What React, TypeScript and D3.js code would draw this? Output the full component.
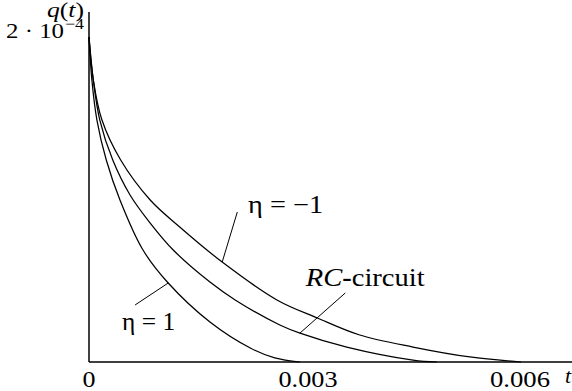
import React from 'react';
import * as d3 from 'd3';

// eta = 1 curve
const etaPlusT = [0, 0.00004, 0.00011, 0.00024, 0.00043, 0.00075, 0.0011, 0.00168, 0.00224, 0.00258, 0.00293];
const etaPlusQ = [2.0e-4, 1.735e-4, 1.489e-4, 1.243e-4, 0.997e-4, 0.689e-4, 0.486e-4, 0.246e-4, 0.086e-4, 0.025e-4, 0];
// RC-circuit curve
const rcT = [0, 0.00006, 0.00015, 0.00033, 0.00057, 0.00085, 0.00117, 0.00168, 0.00203, 0.00265, 0.00293, 0.00358, 0.0045, 0.00483];
const rcQ = [2.0e-4, 1.735e-4, 1.489e-4, 1.243e-4, 1.028e-4, 0.855e-4, 0.689e-4, 0.492e-4, 0.382e-4, 0.228e-4, 0.178e-4, 0.092e-4, 0.012e-4, 0];
// eta = -1 curve
const etaMinusT = [0, 0.00006, 0.00018, 0.00044, 0.00085, 0.00126, 0.00185, 0.00261, 0.00317, 0.00376, 0.0045, 0.00529, 0.006];
const etaMinusQ = [2.0e-4, 1.735e-4, 1.489e-4, 1.243e-4, 0.997e-4, 0.831e-4, 0.615e-4, 0.382e-4, 0.271e-4, 0.166e-4, 0.092e-4, 0.031e-4, 0];

const xTicks = [0, 0.003, 0.006];
const xTickLabels = ['0', '0.003', '0.006'];

// annotations: leader line [t1,q1,t2,q2], label anchor [t,q]
const annLeaders = [
  [0.00185, 0.615e-4, 0.00206, 0.923e-4],
  [0.00293, 0.178e-4, 0.00356, 0.425e-4],
  [0.00064, 0.351e-4, 0.0011, 0.486e-4],
];
const annLabelPos = [
  [0.00221, 0.917e-4],
  [0.00301, 0.468e-4],
  [0.00046, 0.197e-4],
];

const W = 572;
const H = 391;

export default function App() {
  const x = d3.scaleLinear().domain([0, 0.006]).range([89, 521]);
  const y = d3.scaleLinear().domain([0, 2e-4]).range([362, 37]);
  const line = d3
    .line<[number, number]>()
    .x((d) => x(d[0]))
    .y((d) => y(d[1]))
    .curve(d3.curveCatmullRom.alpha(0.5));
  const series = [
    d3.zip(etaPlusT, etaPlusQ) as [number, number][],
    d3.zip(rcT, rcQ) as [number, number][],
    d3.zip(etaMinusT, etaMinusQ) as [number, number][],
  ];
  const font = "'Liberation Serif', 'Times New Roman', Times, serif";
  const lp = annLabelPos.map((p) => [x(p[0]), y(p[1])]);
  const tickW = [13, 59, 60];
  const tickOff = [0, 3, -1];
  return (
    <svg width={W} height={H} style={{ position: 'absolute', left: 0, top: 0, background: '#fff', fontFamily: font }}>
      <rect x={0} y={0} width={W} height={H} fill="#fff" />
      {/* axes */}
      <line x1={x(0)} y1={12} x2={x(0)} y2={y(0)} stroke="#000" strokeWidth={1.5} />
      <line x1={x(0)} y1={y(0)} x2={W} y2={y(0)} stroke="#000" strokeWidth={1.5} />
      {series.map((s, i) => (
        <path key={i} d={line(s) || ''} fill="none" stroke="#000" strokeWidth={1.25} />
      ))}
      {annLeaders.map((l, i) => (
        <line key={i} x1={x(l[0])} y1={y(l[1])} x2={x(l[2])} y2={y(l[3])} stroke="#000" strokeWidth={1} />
      ))}
      {xTicks.map((t, i) => (
        <text
          key={i}
          x={x(t) + tickOff[i] - tickW[i] / 2}
          y={387}
          fontSize={24}
          textLength={tickW[i]}
          lengthAdjust="spacingAndGlyphs"
        >
          {xTickLabels[i]}
        </text>
      ))}
      <text x={565} y={383} fontSize={22} fontStyle="italic">t</text>
      {/* y label */}
      <text x={47} y={17} fontSize={21} textLength={37} lengthAdjust="spacingAndGlyphs">
        <tspan fontStyle="italic">q</tspan>(<tspan fontStyle="italic">t</tspan>)
      </text>
      <text x={6} y={38} fontSize={22} textLength={58} lengthAdjust="spacingAndGlyphs">2 · 10</text>
      <text x={65} y={29} fontSize={15} textLength={19} lengthAdjust="spacingAndGlyphs">−4</text>
      {/* annotation labels */}
      <text x={lp[0][0]} y={lp[0][1]} fontSize={25} textLength={75} lengthAdjust="spacingAndGlyphs">η = −1</text>
      <text x={lp[1][0]} y={lp[1][1]} fontSize={25} textLength={119} lengthAdjust="spacingAndGlyphs">
        <tspan fontStyle="italic">RC</tspan>
        <tspan fontWeight="bold">-</tspan>circuit
      </text>
      <text x={lp[2][0]} y={lp[2][1]} fontSize={25} textLength={53} lengthAdjust="spacingAndGlyphs">η = 1</text>
    </svg>
  );
}
